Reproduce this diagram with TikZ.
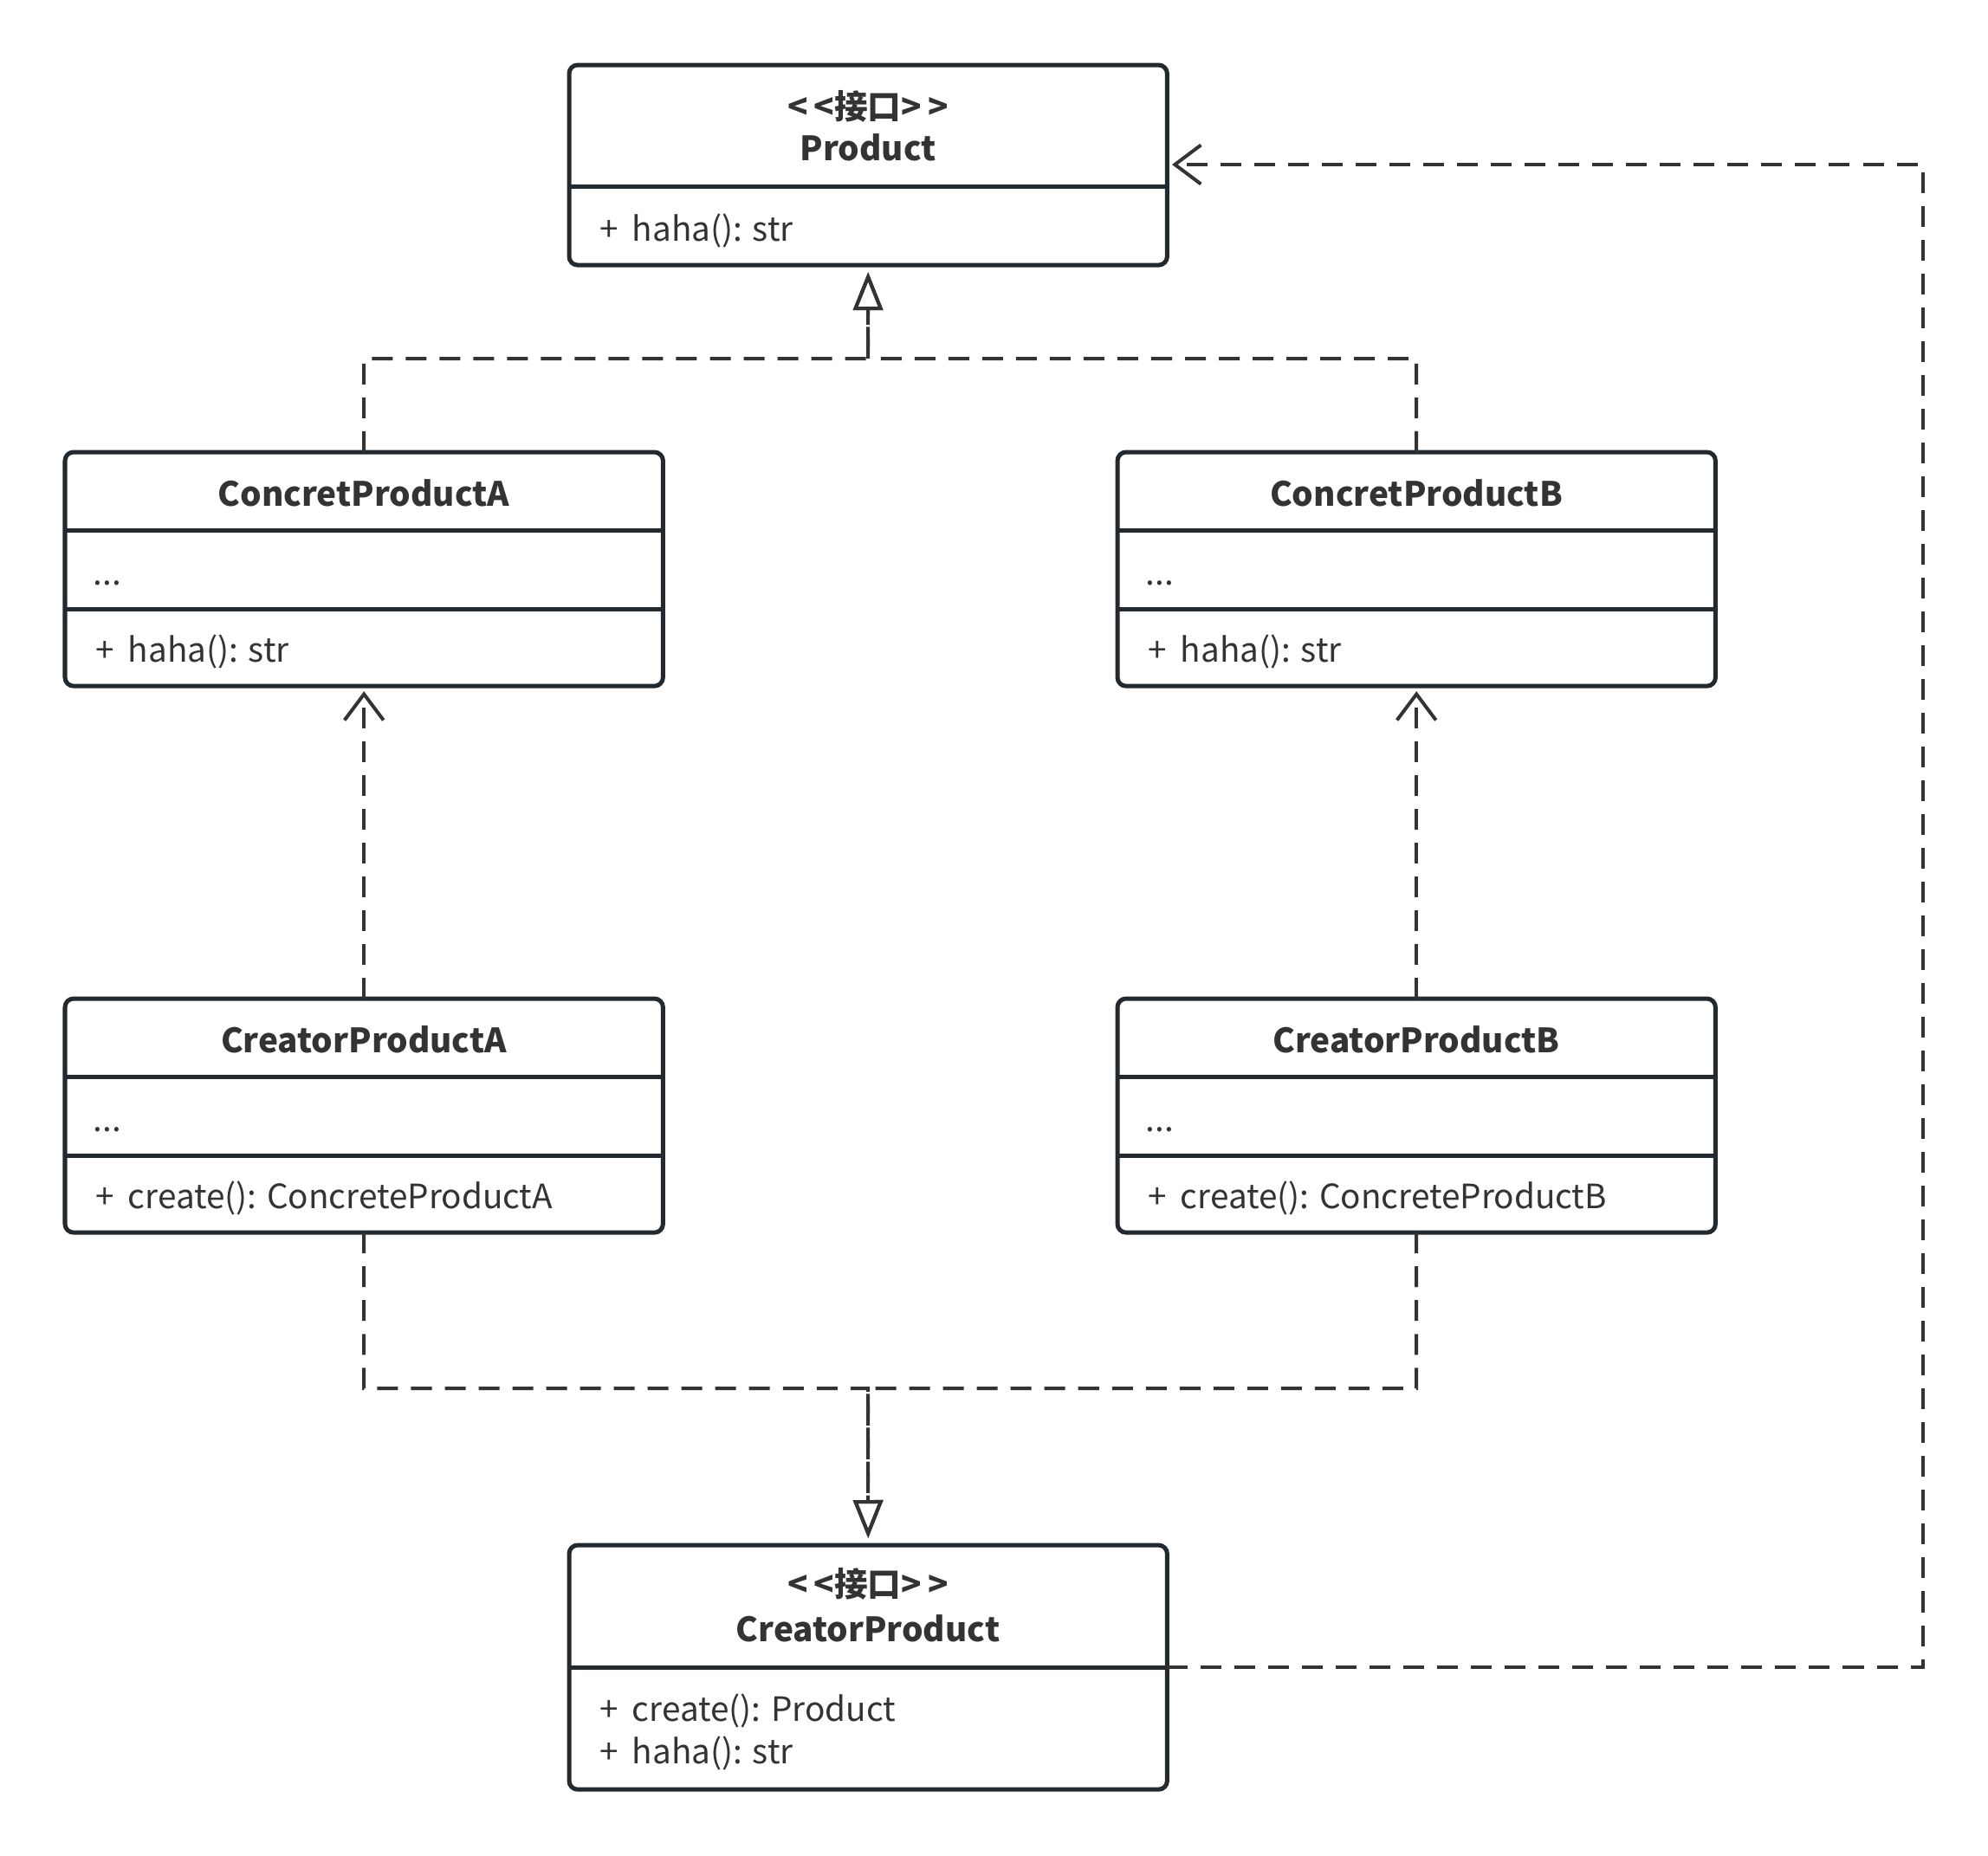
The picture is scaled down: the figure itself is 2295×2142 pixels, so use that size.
\documentclass[tikz,border=0pt]{standalone}
\usepackage{fontspec}
\setmainfont{Noto Sans CJK SC}
\usetikzlibrary{arrows.meta}
\definecolor{boxline}{HTML}{22292F}
\definecolor{txt}{HTML}{333333}

\begin{document}
\begin{tikzpicture}[x=0.01cm, y=-0.01cm,
    classbox/.style={draw=boxline, fill=white, line width=0.05cm, rounded corners=0.1cm,
      minimum width=6.9cm, outer sep=0pt, inner sep=0pt, anchor=north west},
    divider/.style={draw=boxline, line width=0.05cm},
    title/.style={font=\fontsize{11}{14}\selectfont\bfseries, text=txt, anchor=base, inner sep=0pt},
    member/.style={font=\fontsize{11}{14}\selectfont, text=txt, anchor=base west, inner sep=0pt},
    link/.style={draw=txt, line width=0.04cm, dash pattern=on 0.24cm off 0.15cm},
    realize/.style={link, -{Triangle[open, length=0.44cm, width=0.34cm, line width=0.04cm]}, shorten >=0.08cm},
    depend/.style={link, -{Straight Barb[length=0.3cm, width=0.45cm, line width=0.04cm]}, shorten >=0.06cm},
  ]
  \useasboundingbox (0,0) rectangle (2295,2142);

  % interface Product
  \node[classbox, minimum height=2.31cm] (prod) at (657,75) {};
  \draw[divider] ([yshift=-1.4cm]prod.north west) -- ([yshift=-1.4cm]prod.north east);
  \node[title] (prodst) at (1002,137) {<\kern2pt<接口>\kern2pt>};
  \node[title] (prodname) at (1002,185) {Product};
  \node[member] (prodm) at (692,278) {+\kern2pt\ haha(): str};

  % concrete products
  \node[classbox, minimum height=2.7cm] (cpa) at (75,522) {};
  \draw[divider] ([yshift=-0.9cm]cpa.north west) -- ([yshift=-0.9cm]cpa.north east);
  \draw[divider] ([yshift=-1.81cm]cpa.north west) -- ([yshift=-1.81cm]cpa.north east);
  \node[title] (cpaname) at (420,584) {ConcretProductA};
  \node[member] (cpaf) at (107,675) {...};
  \node[member] (cpam) at (110,764) {+\kern2pt\ haha(): str};

  \node[classbox, minimum height=2.7cm] (cpb) at (1290,522) {};
  \draw[divider] ([yshift=-0.9cm]cpb.north west) -- ([yshift=-0.9cm]cpb.north east);
  \draw[divider] ([yshift=-1.81cm]cpb.north west) -- ([yshift=-1.81cm]cpb.north east);
  \node[title] (cpbname) at (1635,584) {ConcretProductB};
  \node[member] (cpbf) at (1322,675) {...};
  \node[member] (cpbm) at (1325,764) {+\kern2pt\ haha(): str};

  % creators
  \node[classbox, minimum height=2.7cm] (cra) at (75,1153) {};
  \draw[divider] ([yshift=-0.9cm]cra.north west) -- ([yshift=-0.9cm]cra.north east);
  \draw[divider] ([yshift=-1.81cm]cra.north west) -- ([yshift=-1.81cm]cra.north east);
  \node[title] (craname) at (420,1215) {CreatorProductA};
  \node[member] (craf) at (107,1306) {...};
  \node[member] (cram) at (110,1395) {+\kern2pt\ create(): ConcreteProductA};

  \node[classbox, minimum height=2.7cm] (crb) at (1290,1153) {};
  \draw[divider] ([yshift=-0.9cm]crb.north west) -- ([yshift=-0.9cm]crb.north east);
  \draw[divider] ([yshift=-1.81cm]crb.north west) -- ([yshift=-1.81cm]crb.north east);
  \node[title] (crbname) at (1635,1215) {CreatorProductB};
  \node[member] (crbf) at (1322,1306) {...};
  \node[member] (crbm) at (1325,1395) {+\kern2pt\ create(): ConcreteProductB};

  % interface CreatorProduct
  \node[classbox, minimum height=2.82cm] (cprod) at (657,1784) {};
  \draw[divider] ([yshift=-1.41cm]cprod.north west) -- ([yshift=-1.41cm]cprod.north east);
  \node[title] (cprodst) at (1002,1843) {<\kern2pt<接口>\kern2pt>};
  \node[title] (cprodname) at (1002,1895) {CreatorProduct};
  \node[member] (cprodm) at (692,1987) {+\kern2pt\ create(): Product};
  \node[member] (cprodh) at (692,2036) {+\kern2pt\ haha(): str};

  % connectors
  \coordinate (ptop) at (1002,414);
  \coordinate (cbot) at (1002,1603);
  \coordinate (cpout) at (1347,1925);
  \coordinate (rside) at (2220,1925);
  \coordinate (prodin) at (1347,190);
  \draw[realize] (cpa.north) |- (ptop) -- (prod.south);
  \draw[realize] (cpb.north) |- (ptop) -- (prod.south);
  \draw[depend] (cra.north) -- (cpa.south);
  \draw[depend] (crb.north) -- (cpb.south);
  \draw[realize] (cra.south) |- (cbot) -- (cprod.north);
  \draw[realize] (crb.south) |- (cbot) -- (cprod.north);
  \draw[depend] (cpout) -- (rside) |- (prodin);
\end{tikzpicture}
\end{document}
